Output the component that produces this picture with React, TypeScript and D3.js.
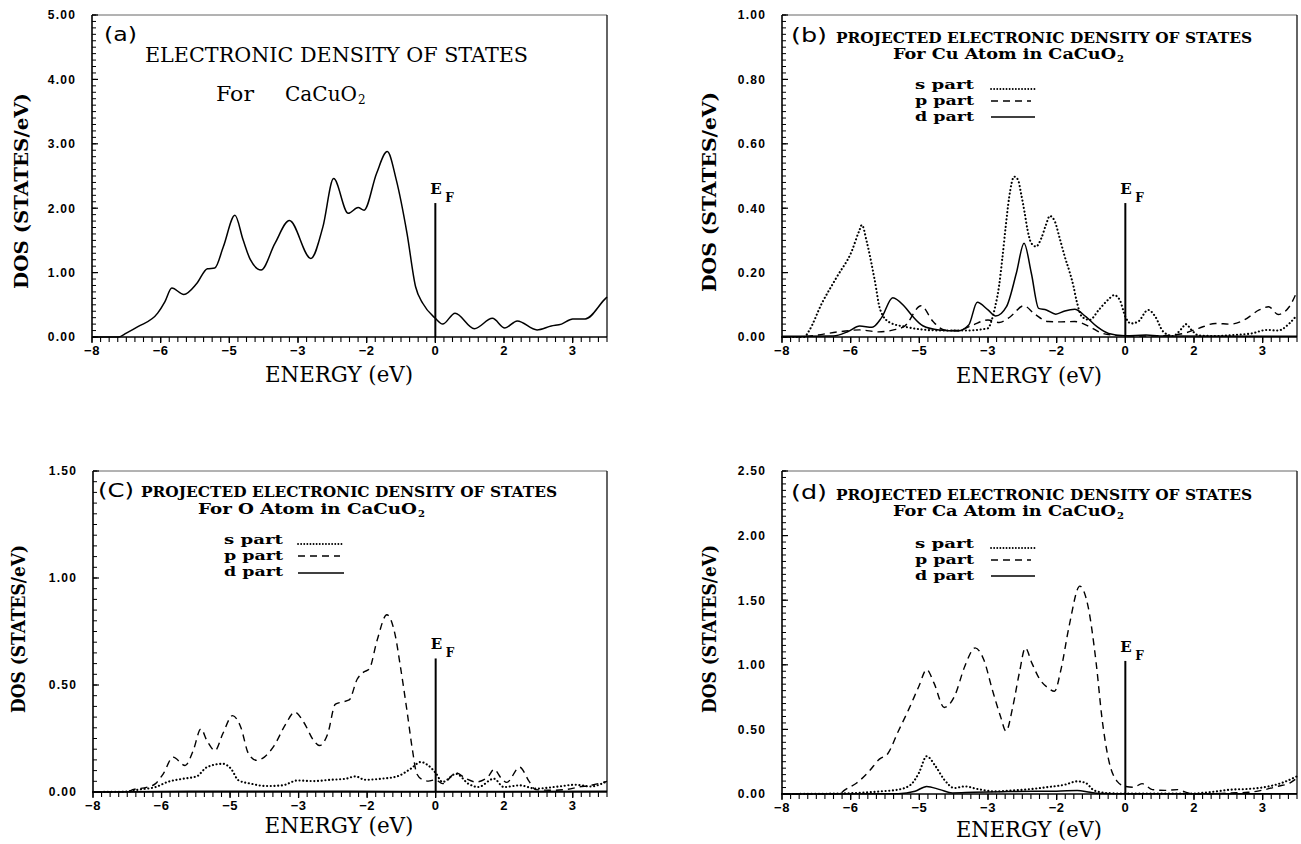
import React from 'react';
import * as d3 from 'd3';

type Pt = [number, number];

// ---------- axis data ----------
const X_DOMAIN: [number, number] = [-8, 4];
const X_TICKS = [-8, -6.4, -4.8, -3.2, -1.6, 0, 1.6, 3.2];
const X_TICK_LABELS = ['−8', '−6', '−5', '−3', '−2', '0', '2', '3'];
const X_MINOR_STEP = 0.2;

// ---------- (a) total DOS ----------
const A_TOTAL: Pt[] = [
  [-8, 0], [-7.38, 0], [-7.2, 0.06], [-6.93, 0.16], [-6.47, 0.37], [-6.3, 0.55], [-6.14, 0.76],
  [-5.86, 0.66], [-5.56, 0.83], [-5.31, 1.06], [-5.14, 1.07], [-4.94, 1.4], [-4.67, 1.89],
  [-4.48, 1.51], [-4.31, 1.2], [-4.06, 1.04], [-3.74, 1.45], [-3.4, 1.81], [-2.9, 1.22],
  [-2.62, 1.71], [-2.37, 2.46], [-2.03, 1.92], [-1.8, 2.01], [-1.66, 1.97], [-1.37, 2.54],
  [-1.12, 2.88], [-0.91, 2.44], [-0.66, 1.61], [-0.46, 0.78], [-0.29, 0.52], [0, 0.29],
  [0.17, 0.2], [0.46, 0.37], [0.91, 0.13], [1.33, 0.29], [1.62, 0.14], [1.91, 0.25],
  [2.37, 0.11], [2.7, 0.17], [2.94, 0.2], [3.2, 0.28], [3.49, 0.28], [3.94, 0.58], [4, 0.62],
];

// ---------- (b) Cu projected DOS ----------
const B_S: Pt[] = [
  [-8, 0], [-7.48, 0], [-7.38, 0.017], [-7.07, 0.105], [-6.72, 0.187], [-6.38, 0.265], [-6.2, 0.33],
  [-6.14, 0.348], [-6.02, 0.293], [-5.84, 0.177], [-5.71, 0.084], [-5.49, 0.045], [-5.14, 0.032],
  [-4.78, 0.024], [-4.26, 0.02], [-3.74, 0.02], [-3.2, 0.027], [-3.12, 0.05], [-3.04, 0.09],
  [-2.94, 0.161], [-2.87, 0.239], [-2.79, 0.34], [-2.71, 0.431], [-2.59, 0.498], [-2.5, 0.488],
  [-2.43, 0.446], [-2.35, 0.389], [-2.28, 0.334], [-2.19, 0.291], [-2.08, 0.281], [-1.96, 0.306],
  [-1.85, 0.348], [-1.76, 0.376], [-1.64, 0.358], [-1.54, 0.312], [-1.41, 0.249], [-1.3, 0.203],
  [-1.21, 0.159], [-1.14, 0.115], [-1.01, 0.063], [-0.83, 0.053], [-0.62, 0.084], [-0.39, 0.117],
  [-0.26, 0.13], [-0.13, 0.115], [0, 0.063], [0.13, 0.042], [0.3, 0.048], [0.53, 0.084],
  [0.7, 0.063], [0.88, 0.017], [1.1, 0.003], [1.32, 0.027], [1.41, 0.04], [1.54, 0.022],
  [1.71, 0.005], [2.15, 0.003], [2.59, 0.007], [2.94, 0.011], [3.3, 0.022], [3.56, 0.02],
  [3.82, 0.042], [4, 0.068],
];
const B_P: Pt[] = [
  [-8, 0], [-7.44, 0.002], [-6.63, 0.017], [-6.19, 0.022], [-5.75, 0.016], [-5.4, 0.022],
  [-5.14, 0.034], [-4.76, 0.097], [-4.48, 0.048], [-4.22, 0.022], [-3.9, 0.02], [-3.56, 0.037],
  [-3.2, 0.053], [-2.94, 0.045], [-2.68, 0.063], [-2.37, 0.097], [-2.1, 0.07], [-1.8, 0.048],
  [-1.5, 0.047], [-1.18, 0.048], [-0.83, 0.032], [-0.57, 0.013], [-0.22, 0.005], [0.39, 0.003],
  [1.01, 0.005], [1.36, 0.011], [1.71, 0.027], [2.1, 0.042], [2.46, 0.04], [2.77, 0.053],
  [3.12, 0.084], [3.34, 0.094], [3.56, 0.07], [3.82, 0.094], [4, 0.141],
];
const B_D: Pt[] = [
  [-8, 0.002], [-6.8, 0.003], [-6.46, 0.017], [-6.19, 0.034], [-5.9, 0.03], [-5.68, 0.06],
  [-5.42, 0.122], [-5.14, 0.094], [-4.96, 0.065], [-4.72, 0.035], [-4.34, 0.022], [-3.9, 0.019],
  [-3.65, 0.037], [-3.45, 0.108], [-3.2, 0.084], [-3.02, 0.065], [-2.77, 0.094], [-2.54, 0.198],
  [-2.36, 0.291], [-2.19, 0.198], [-2.02, 0.089], [-1.84, 0.084], [-1.62, 0.071], [-1.41, 0.081],
  [-1.18, 0.086], [-0.92, 0.063], [-0.66, 0.032], [-0.39, 0.011], [0, 0.004], [0.48, 0.006],
  [0.8, 0.003], [4, 0.002],
];

// ---------- (c) O projected DOS ----------
const C_S: Pt[] = [
  [-8, 0], [-7.2, 0.002], [-6.91, 0.012], [-6.54, 0.023], [-6.26, 0.047], [-5.9, 0.062],
  [-5.58, 0.073], [-5.34, 0.116], [-4.97, 0.132], [-4.78, 0.109], [-4.6, 0.054], [-4.32, 0.039],
  [-3.95, 0.028], [-3.58, 0.031], [-3.22, 0.054], [-2.85, 0.051], [-2.47, 0.057], [-2.1, 0.062],
  [-1.87, 0.073], [-1.65, 0.057], [-1.27, 0.062], [-0.9, 0.073], [-0.58, 0.109], [-0.35, 0.14],
  [-0.17, 0.124], [0, 0.089], [0.16, 0.047], [0.48, 0.085], [0.76, 0.039], [0.99, 0.023],
  [1.36, 0.062], [1.59, 0.023], [1.96, 0.031], [2.33, 0.016], [2.88, 0.026], [3.25, 0.034],
  [3.62, 0.026], [4, 0.05],
];
const C_P: Pt[] = [
  [-8, 0], [-7.2, 0.002], [-7.05, 0.012], [-6.73, 0.023], [-6.54, 0.039], [-6.36, 0.085],
  [-6.13, 0.163], [-5.85, 0.124], [-5.66, 0.194], [-5.48, 0.295], [-5.34, 0.24], [-5.15, 0.194],
  [-4.97, 0.272], [-4.74, 0.357], [-4.55, 0.303], [-4.37, 0.179], [-4.18, 0.148], [-4, 0.163],
  [-3.77, 0.217], [-3.5, 0.318], [-3.29, 0.373], [-3.08, 0.326], [-2.85, 0.241], [-2.71, 0.217],
  [-2.52, 0.272], [-2.34, 0.411], [-2.2, 0.42], [-2.02, 0.43], [-1.83, 0.528], [-1.69, 0.559],
  [-1.55, 0.575], [-1.37, 0.707], [-1.14, 0.828], [-0.95, 0.738], [-0.82, 0.582], [-0.67, 0.38],
  [-0.54, 0.194], [-0.44, 0.085], [-0.3, 0.057], [-0.17, 0.051], [0, 0.057], [0.16, 0.039],
  [0.48, 0.089], [0.71, 0.062], [0.94, 0.047], [1.22, 0.07], [1.36, 0.106], [1.54, 0.062],
  [1.66, 0.045], [1.96, 0.116], [2.19, 0.047], [2.33, 0.011], [2.7, 0.008], [3.06, 0.012],
  [3.34, 0.023], [3.62, 0.031], [4, 0.05],
];
const C_D: Pt[] = [
  [-8, 0], [-6.5, 0.002], [-4.8, 0.004], [-2, 0.003], [0, 0.002], [4, 0.003],
];

// ---------- (d) Ca projected DOS ----------
const D_S: Pt[] = [
  [-8, 0], [-6.8, 0.003], [-6.26, 0.008], [-5.68, 0.021], [-5.29, 0.034], [-5, 0.072],
  [-4.81, 0.163], [-4.63, 0.292], [-4.42, 0.214], [-4.22, 0.111], [-3.98, 0.046], [-3.74, 0.059],
  [-3.45, 0.039], [-3.06, 0.021], [-2.58, 0.028], [-2.18, 0.039], [-1.8, 0.054], [-1.41, 0.072],
  [-1.12, 0.098], [-0.92, 0.085], [-0.73, 0.028], [-0.44, 0.008], [0, 0.003], [1.5, 0.003],
  [1.99, 0.015], [2.47, 0.034], [2.86, 0.039], [3.26, 0.054], [3.64, 0.085], [4, 0.137],
];
const D_P: Pt[] = [
  [-8, 0], [-6.65, 0.002], [-6.55, 0.028], [-6.26, 0.085], [-5.97, 0.176], [-5.73, 0.27],
  [-5.54, 0.31], [-5.29, 0.486], [-5.05, 0.653], [-4.81, 0.834], [-4.63, 0.963], [-4.46, 0.86],
  [-4.22, 0.67], [-3.98, 0.757], [-3.74, 0.989], [-3.5, 1.131], [-3.3, 1.041], [-3.1, 0.808],
  [-2.91, 0.602], [-2.78, 0.486], [-2.62, 0.679], [-2.47, 0.937], [-2.33, 1.131], [-2.18, 1.015],
  [-1.99, 0.886], [-1.8, 0.821], [-1.65, 0.795], [-1.5, 0.963], [-1.31, 1.299], [-1.06, 1.609],
  [-0.87, 1.454], [-0.68, 1.015], [-0.54, 0.576], [-0.39, 0.266], [-0.19, 0.098], [0, 0.059],
  [0.19, 0.052], [0.39, 0.08], [0.63, 0.034], [0.92, 0.028], [1.22, 0.034], [1.46, 0.008],
  [1.7, 0], [2.47, 0.008], [2.86, 0.013], [3.26, 0.034], [3.54, 0.059], [3.83, 0.085], [4, 0.124],
];
const D_D: Pt[] = [
  [-8, 0], [-5.29, 0.002], [-4.9, 0.021], [-4.63, 0.059], [-4.32, 0.034], [-4.03, 0.008],
  [-3.54, 0.013], [-2.86, 0.018], [-2.18, 0.021], [-1.6, 0.021], [-1.12, 0.028], [-0.82, 0.013],
  [-0.54, 0.003], [0, 0.001], [4, 0.001],
];

// ---------- y-axis settings ----------
const Y_MAX = { a: 5, b: 1, c: 1.5, d: 2.5 };
const Y_STEP = { a: 1, b: 0.2, c: 0.5, d: 0.5 };
const Y_MINOR = { a: 0.1, b: 0.02, c: 0.05, d: 0.05 };
const EF_TOP = { a: 2.08, b: 0.416, c: 0.624, d: 1.03 };

const LEGEND_LABELS = ['s part', 'p part', 'd part'];

const SERIF = "'DejaVu Serif', 'Liberation Serif', serif";
const SANS = "'Liberation Sans', Arial, sans-serif";

type Style = 'solid' | 'dashed' | 'dotted';

interface PanelCfg {
  key: 'a' | 'b' | 'c' | 'd';
  left: number; right: number; top: number; bottom: number;
  series: { data: Pt[]; style: Style }[];
  letter: string; letterX: number; letterY: number; letterLen: number;
  yTitle: { cx: number; cy: number; len: number };
  xTitle: { cx: number; y: number; len: number };
}

const strokeProps = (s: Style) => {
  if (s === 'dashed') return { strokeWidth: 1.4, strokeDasharray: '7 5', strokeLinecap: 'butt' as const };
  if (s === 'dotted') return { strokeWidth: 2.1, strokeDasharray: '0.1 3.6', strokeLinecap: 'round' as const };
  return { strokeWidth: 1.5, strokeDasharray: undefined, strokeLinecap: 'butt' as const };
};

const Panel: React.FC<{ cfg: PanelCfg; children?: React.ReactNode }> = ({ cfg, children }) => {
  const { left, right, top, bottom, key } = cfg;
  const x = d3.scaleLinear().domain(X_DOMAIN).range([left, right]);
  const y = d3.scaleLinear().domain([0, Y_MAX[key]]).range([bottom, top]);
  const line = d3.line<Pt>().x(d => x(d[0])).y(d => y(d[1])).curve(d3.curveMonotoneX);
  const yTicks = d3.range(0, Y_MAX[key] + 1e-9, Y_STEP[key]);
  const yMinor = d3.range(0, Y_MAX[key] + 1e-9, Y_MINOR[key]);
  const xMinor = d3.range(X_DOMAIN[0], X_DOMAIN[1] + 1e-9, X_MINOR_STEP);
  const fmt = d3.format('.2f');
  const ef = x(0);
  const efTop = y(EF_TOP[key]);
  return (
    <g>
      {/* frame */}
      <line x1={left} x2={right} y1={top} y2={top} stroke="#666" strokeWidth={1} />
      <line x1={right} x2={right} y1={top} y2={bottom} stroke="#111" strokeWidth={1.3} />
      <line x1={left} x2={left} y1={top} y2={bottom} stroke="#000" strokeWidth={1.6} />
      <line x1={left} x2={right} y1={bottom} y2={bottom} stroke="#000" strokeWidth={1.6} />
      {/* y ticks */}
      {yMinor.map((v, i) => (
        <line key={'ym' + i} x1={left} x2={left + 4} y1={y(v)} y2={y(v)} stroke="#000" strokeWidth={1} />
      ))}
      {yTicks.map((v, i) => (
        <g key={'yt' + i}>
          <line x1={left} x2={left + 6} y1={y(v)} y2={y(v)} stroke="#000" strokeWidth={1.2} />
          <text x={left - 16} y={y(v)} dy="0.36em" textAnchor="end" fontFamily={SANS} fontWeight="bold"
            fontSize={12} letterSpacing={1.2}>{fmt(v)}</text>
        </g>
      ))}
      {/* x ticks */}
      {xMinor.map((v, i) => (
        <line key={'xm' + i} x1={x(v)} x2={x(v)} y1={bottom} y2={bottom + 5} stroke="#000" strokeWidth={1.1} />
      ))}
      {X_TICKS.map((v, i) => (
        <g key={'xt' + i}>
          <line x1={x(v)} x2={x(v)} y1={bottom} y2={bottom + 6} stroke="#000" strokeWidth={1.3} />
          <text x={x(v)} y={bottom + 18} textAnchor="middle" fontFamily={SANS} fontWeight="bold"
            fontSize={13} letterSpacing={0.5}>{X_TICK_LABELS[i]}</text>
        </g>
      ))}
      {/* curves */}
      {cfg.series.map((s, i) => {
        const sp = strokeProps(s.style);
        return (
          <path key={'s' + i} d={line(s.data) || ''} fill="none" stroke="#000"
            strokeWidth={sp.strokeWidth} strokeDasharray={sp.strokeDasharray} strokeLinecap={sp.strokeLinecap}
            strokeLinejoin="round" />
        );
      })}
      {/* Fermi level */}
      <line x1={ef} x2={ef} y1={bottom} y2={efTop} stroke="#000" strokeWidth={2} />
      <text x={ef - 5} y={efTop - 9} fontFamily={SERIF} fontWeight="bold" fontSize={15}>E</text>
      <text x={ef + 10} y={efTop - 1} fontFamily={SERIF} fontWeight="bold" fontSize={12}>F</text>
      {/* panel letter */}
      <text x={cfg.letterX} y={cfg.letterY} fontFamily="'DejaVu Sans', sans-serif" fontSize={20}
        textLength={cfg.letterLen} lengthAdjust="spacingAndGlyphs">{cfg.letter}</text>
      {/* axis titles */}
      <text transform={`translate(${cfg.yTitle.cx},${cfg.yTitle.cy}) rotate(-90)`} textAnchor="middle"
        dy="0.35em" fontFamily={SERIF} fontWeight="bold" fontSize={18}
        textLength={cfg.yTitle.len} lengthAdjust="spacingAndGlyphs">DOS  (STATES/eV)</text>
      <text x={cfg.xTitle.cx - cfg.xTitle.len / 2} y={cfg.xTitle.y} fontFamily={SERIF} fontSize={22}
        textLength={cfg.xTitle.len} lengthAdjust="spacingAndGlyphs">ENERGY  (eV)</text>
      {children}
    </g>
  );
};

const Legend: React.FC<{ tx: number; lx0: number; lx1: number; baselines: number[]; lineYs: number[] }> =
  ({ tx, lx0, lx1, baselines, lineYs }) => {
    const styles: Style[] = ['dotted', 'dashed', 'solid'];
    return (
      <g>
        {LEGEND_LABELS.map((lab, i) => {
          const sp = strokeProps(styles[i]);
          return (
            <g key={lab}>
              <text x={tx} y={baselines[i]} fontFamily={SERIF} fontWeight="bold" fontSize={13}
                textLength={59} lengthAdjust="spacingAndGlyphs">{lab}</text>
              <line x1={lx0} x2={styles[i] === 'dashed' ? lx1 - 4 : lx1} y1={lineYs[i]} y2={lineYs[i]}
                stroke="#000" strokeWidth={styles[i] === 'dotted' ? 1.8 : sp.strokeWidth}
                strokeDasharray={styles[i] === 'dotted' ? '0.1 3' : sp.strokeDasharray}
                strokeLinecap={sp.strokeLinecap} />
            </g>
          );
        })}
      </g>
    );
  };

const Title2: React.FC<{ x1: number; y1: number; x2: number; y2: number; atom: string; len2: number }> =
  ({ x1, y1, x2, y2, atom, len2 }) => (
    <g>
      <text x={x1} y={y1} fontFamily={SERIF} fontWeight="bold" fontSize={15}
        textLength={416} lengthAdjust="spacingAndGlyphs">PROJECTED ELECTRONIC DENSITY OF STATES</text>
      <text x={x2} y={y2} fontFamily={SERIF} fontWeight="bold" fontSize={15}
        textLength={len2} lengthAdjust="spacingAndGlyphs">{`For ${atom} Atom in CaCuO`}</text>
      <text x={x2 + len2 + 1} y={y2 + 3} fontFamily={SERIF} fontWeight="bold" fontSize={10}>2</text>
    </g>
  );

export default function App() {
  const panels: PanelCfg[] = [
    {
      key: 'a', left: 92, right: 607, top: 15, bottom: 337,
      series: [{ data: A_TOTAL, style: 'solid' }],
      letter: '(a)', letterX: 104, letterY: 41, letterLen: 33,
      yTitle: { cx: 22, cy: 191, len: 196 }, xTitle: { cx: 339, y: 382, len: 148 },
    },
    {
      key: 'b', left: 782, right: 1297, top: 15, bottom: 337,
      series: [{ data: B_S, style: 'dotted' }, { data: B_P, style: 'dashed' }, { data: B_D, style: 'solid' }],
      letter: '(b)', letterX: 791, letterY: 42, letterLen: 36,
      yTitle: { cx: 710, cy: 192, len: 200 }, xTitle: { cx: 1029, y: 383, len: 146 },
    },
    {
      key: 'c', left: 93, right: 607, top: 471, bottom: 792,
      series: [{ data: C_S, style: 'dotted' }, { data: C_P, style: 'dashed' }, { data: C_D, style: 'solid' }],
      letter: '(C)', letterX: 98, letterY: 497, letterLen: 36,
      yTitle: { cx: 19, cy: 629, len: 168 }, xTitle: { cx: 339, y: 833, len: 149 },
    },
    {
      key: 'd', left: 782, right: 1297, top: 471, bottom: 794,
      series: [{ data: D_S, style: 'dotted' }, { data: D_P, style: 'dashed' }, { data: D_D, style: 'solid' }],
      letter: '(d)', letterX: 791, letterY: 499, letterLen: 36,
      yTitle: { cx: 710, cy: 629, len: 168 }, xTitle: { cx: 1029, y: 837, len: 146 },
    },
  ];

  return (
    <svg width={1301} height={844} viewBox="0 0 1301 844"
      style={{ position: 'absolute', left: 0, top: 0, background: '#fff' }}>
      <rect width={1301} height={844} fill="#fff" />
      <Panel cfg={panels[0]}>
        <text x={145} y={62} fontFamily={SERIF} fontSize={20} textLength={383}
          lengthAdjust="spacingAndGlyphs">ELECTRONIC DENSITY OF STATES</text>
        <text x={216} y={101} fontFamily={SERIF} fontSize={20} textLength={38}
          lengthAdjust="spacingAndGlyphs">For</text>
        <text x={285} y={101} fontFamily={SERIF} fontSize={20} textLength={72}
          lengthAdjust="spacingAndGlyphs">CaCuO</text>
        <text x={358} y={104} fontFamily={SERIF} fontSize={12}>2</text>
      </Panel>
      <Panel cfg={panels[1]}>
        <Title2 x1={836} y1={43} x2={893} y2={59} atom="Cu" len2={223} />
        <Legend tx={915} lx0={991} lx1={1035} baselines={[89, 105, 121]} lineYs={[89, 101, 117]} />
      </Panel>
      <Panel cfg={panels[2]}>
        <Title2 x1={141} y1={497} x2={198} y2={514} atom="O" len2={219} />
        <Legend tx={224} lx0={298} lx1={344} baselines={[544, 560, 576]} lineYs={[544, 556, 573]} />
      </Panel>
      <Panel cfg={panels[3]}>
        <Title2 x1={836} y1={500} x2={893} y2={516} atom="Ca" len2={223} />
        <Legend tx={915} lx0={991} lx1={1035} baselines={[548, 564, 580]} lineYs={[548, 560, 576]} />
      </Panel>
    </svg>
  );
}
